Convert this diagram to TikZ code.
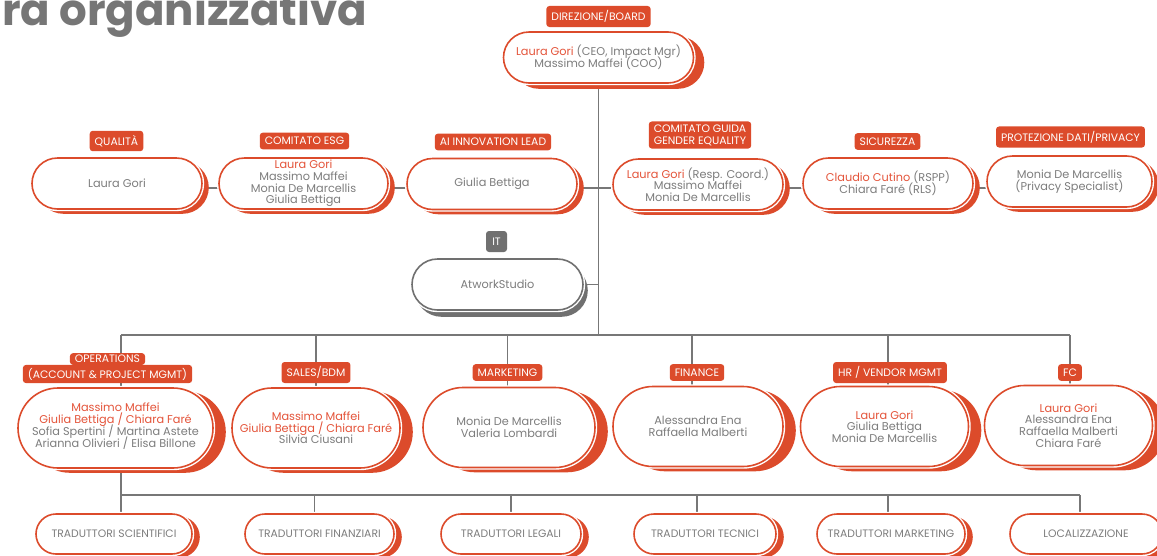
\documentclass[tikz,border=0pt]{standalone}
\usepackage{fontspec}
\setmainfont{Poppins}
\usetikzlibrary{shapes.misc,shadows}
\definecolor{brand}{HTML}{DC4B2B}
\definecolor{brandtxt}{HTML}{E4543A}
\definecolor{txtgray}{HTML}{7D7D7D}
\definecolor{linegray}{HTML}{777777}
\definecolor{itgray}{HTML}{707070}
\definecolor{titlegray}{HTML}{767676}
\newcommand{\hl}[1]{\textcolor{brandtxt}{#1}}
% fixed line pitch inside the multi-line boxes
\newcommand{\bodyfont}{\fontsize{11.3}{11.7}\selectfont\lineskiplimit=-20pt\relax}
\newcommand{\tagfont}{\fontsize{10.8}{12}\selectfont\lineskiplimit=-20pt\relax}
\pgfdeclarelayer{bg}
\pgfsetlayers{bg,main}

\begin{document}
\begin{tikzpicture}[x=1pt,y=-1pt,
  wire/.style={draw=linegray, line width=1.8pt},
  pillcore/.style={rounded rectangle, align=center, inner sep=0pt,
    fill=white, text=txtgray, line width=1.6pt},
  pill/.style={pillcore, draw=brand, minimum height=#1, font=\bodyfont},
  smallshadow/.style={copy shadow={shadow xshift=6pt, shadow yshift=-4pt,
    fill=brand, draw=brand, line width=1.6pt}},
  bigshadow/.style={copy shadow={shadow xshift=12pt, shadow yshift=-4pt,
    fill=brand, draw=brand, line width=1.6pt}},
  boardshadow/.style={copy shadow={shadow xshift=10pt, shadow yshift=-5pt,
    fill=brand, draw=brand, line width=1.6pt}},
  footshadow/.style={copy shadow={shadow xshift=7pt, shadow yshift=-3pt,
    fill=brand, draw=brand, line width=1.6pt}},
  ring/.style={preaction={draw=white, line width=4.4pt}},
  tag/.style={fill=brand, text=white, rounded corners=3pt, inner xsep=5pt,
    inner ysep=4.5pt, align=center, font=\tagfont},
  foot/.style={pillcore, draw=brand, minimum height=40pt, font=\tagfont},
]
\useasboundingbox (0,0) rectangle (1157,555);

% heading
\node[anchor=base west, inner sep=0pt, text=titlegray,
  font=\fontsize{43.5}{43.5}\selectfont\bfseries] (title) at (2,25) {ra organizzativa};

% board
\node[pill=51pt, boardshadow, ring, minimum width=190pt] (board) at (598.5,57.5)
  {\hl{Laura Gori} (CEO, Impact Mgr)\\Massimo Maffei (COO)};
\node[tag] (boardlbl) at (598.5,16.5) {DIREZIONE/BOARD};

% staff functions
\node[pill=51pt, smallshadow, ring, minimum width=170pt] (qual) at (117,183.5) {Laura Gori};
\node[tag] (quallbl) at (116.5,141) {QUALITÀ};

\node[pill=51pt, smallshadow, ring, minimum width=169pt] (esg) at (303.5,183.5)
  {\hl{Laura Gori}\\Massimo Maffei\\Monia De Marcellis\\Giulia Bettiga};
\node[tag] (esglbl) at (304.5,141) {COMITATO ESG};

\node[pill=51pt, smallshadow, ring, minimum width=170pt] (ai) at (492,184) {Giulia Bettiga};
\node[tag] (ailbl) at (493,142) {AI INNOVATION LEAD};

\node[pill=51pt, smallshadow, ring, minimum width=170pt] (gender) at (698,184.5)
  {\hl{Laura Gori} (Resp. Coord.)\\Massimo Maffei\\Monia De Marcellis};
\node[tag, inner ysep=3pt] (genderlbl) at (700,135)
  {COMITATO GUIDA\\GENDER EQUALITY};

\node[pill=51pt, smallshadow, ring, minimum width=170pt] (sic) at (888,183.5)
  {\hl{Claudio Cutino} (RSPP)\\Chiara Faré (RLS)};
\node[tag] (siclbl) at (887.5,141.5) {SICUREZZA};

\node[pill=51pt, smallshadow, ring, minimum width=165pt] (priv) at (1069.5,181.5)
  {Monia De Marcellis\\(Privacy Specialist)};
\node[tag] (privlbl) at (1070.5,137) {PROTEZIONE DATI/PRIVACY};

% IT supplier
\node[pillcore, draw=itgray, minimum height=51pt, minimum width=171pt, font=\bodyfont,
  copy shadow={shadow xshift=4pt, shadow yshift=-6pt, fill=itgray, draw=itgray, line width=1.6pt},
  ring] (it) at (497.5,284.5) {AtworkStudio};
\node[tag, fill=itgray, inner sep=0pt, minimum size=21pt] (itlbl) at (496.5,241.5) {IT};

% departments
\node[pill=80pt, bigshadow, ring, minimum width=195pt] (ops) at (115.5,428)
  {\hl{Massimo Maffei}\\\hl{Giulia Bettiga / Chiara Faré}\\Sofia Spertini / Martina Astete\\Arianna Olivieri / Elisa Billone\\[-6pt]};
\node[tag, inner ysep=2pt] (opstab) at (107.5,359) {OPERATIONS};
\node[tag, inner ysep=3pt] (opslbl) at (107.5,374) {(ACCOUNT \& PROJECT MGMT)};

\node[pill=80pt, bigshadow, ring, minimum width=168pt] (sales) at (316,428)
  {\hl{Massimo Maffei}\\\hl{Giulia Bettiga / Chiara Faré}\\Silvia Ciusani};
\node[tag] (saleslbl) at (316,372.5) {SALES/BDM};

\node[pill=80pt, bigshadow, ring, minimum width=172pt] (mkt) at (509,427.5)
  {Monia De Marcellis\\Valeria Lombardi};
\node[tag] (mktlbl) at (507.5,372.5) {MARKETING};

\node[pill=80pt, bigshadow, ring, minimum width=170pt] (fin) at (698,426.5)
  {Alessandra Ena\\Raffaella Malberti};
\node[tag] (finlbl) at (697,372.5) {FINANCE};

\node[pill=80pt, bigshadow, ring, minimum width=168pt] (hr) at (884.5,426.5)
  {\hl{Laura Gori}\\Giulia Bettiga\\Monia De Marcellis};
\node[tag] (hrlbl) at (890,372.5) {HR / VENDOR MGMT};

\node[pill=80pt, bigshadow, ring, minimum width=168pt] (fc) at (1068.5,425.5)
  {\hl{Laura Gori}\\Alessandra Ena\\Raffaella Malberti\\Chiara Faré};
\node[tag] (fclbl) at (1070,372.5) {FC};

% translator pools
\node[foot, footshadow, ring, minimum width=156pt] (sci) at (114,534) {TRADUTTORI SCIENTIFICI};
\node[foot, footshadow, ring, minimum width=149pt] (finz) at (319.5,534) {TRADUTTORI FINANZIARI};
\node[foot, footshadow, ring, minimum width=140pt] (leg) at (511,534) {TRADUTTORI LEGALI};
\node[foot, footshadow, ring, minimum width=142pt] (tec) at (705,534) {TRADUTTORI TECNICI};
\node[foot, footshadow, ring, minimum width=148pt] (mkg) at (891,534) {TRADUTTORI MARKETING};
\node[foot, footshadow, ring, minimum width=152pt] (loc) at (1086,534) {LOCALIZZAZIONE};

% connectors
\coordinate (hub) at (598.5,335);
\coordinate (busL) at (121,335);
\coordinate (busR) at (1070,335);
\coordinate (d1) at (121,335);
\coordinate (d2) at (316,335);
\coordinate (d3) at (507.5,335);
\coordinate (d4) at (692,335);
\coordinate (d5) at (888,335);
\coordinate (d6) at (1070,335);
\coordinate (staffbus) at (0,188);
\coordinate (footbusL) at (121,495);
\coordinate (footbusR) at (1080,495);
\coordinate (f1) at (121,495);
\coordinate (f2) at (314.5,495);
\coordinate (f3) at (511,495);
\coordinate (f4) at (697,495);
\coordinate (f5) at (888,495);
\coordinate (f6) at (1080,495);

\begin{pgfonlayer}{bg}
  \draw[wire] (board.center) -- (hub);
  \draw[wire] (qual.center |- staffbus) -- (priv.center |- staffbus);
  \draw[wire] (it.center) -- (it.center -| hub);
  \draw[wire] (busL) -- (busR);
  \draw[wire] (d1) -- (d1 |- ops.center);
  \draw[wire] (d2) -- (d2 |- sales.center);
  \draw[wire] (d3) -- (d3 |- mkt.center);
  \draw[wire] (d4) -- (d4 |- fin.center);
  \draw[wire] (d5) -- (d5 |- hr.center);
  \draw[wire] (d6) -- (d6 |- fc.center);
  \draw[wire] (d1 |- ops.center) -- (footbusL);
  \draw[wire] (footbusL) -- (footbusR);
  \draw[wire] (f1) -- (f1 |- sci.center);
  \draw[wire] (f2) -- (f2 |- finz.center);
  \draw[wire] (f3) -- (f3 |- leg.center);
  \draw[wire] (f4) -- (f4 |- tec.center);
  \draw[wire] (f5) -- (f5 |- mkg.center);
  \draw[wire] (f6) -- (f6 |- loc.center);
\end{pgfonlayer}
\end{tikzpicture}
\end{document}
